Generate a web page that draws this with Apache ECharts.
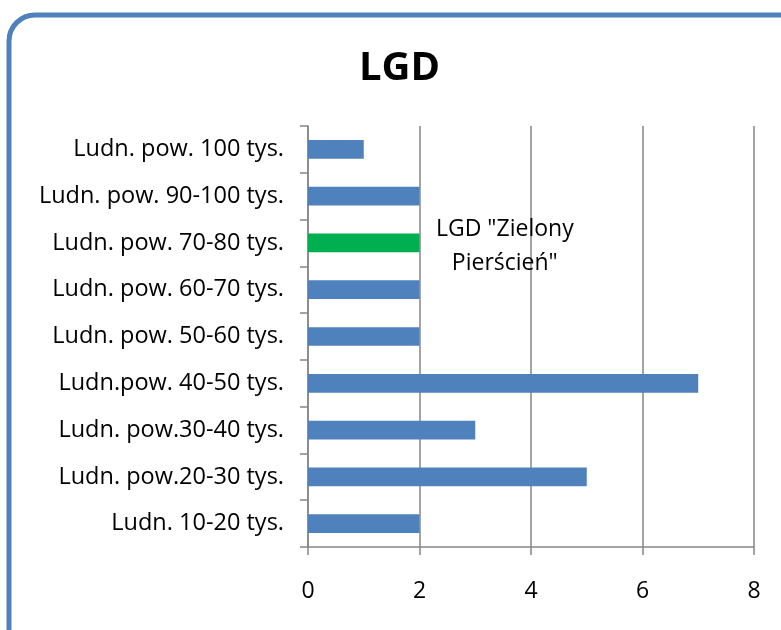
<!DOCTYPE html>
<html>
<head>
<meta charset="utf-8">
<script src="https://cdn.jsdelivr.net/npm/echarts@6/dist/echarts.min.js"></script>
<style>
  html, body { margin: 0; padding: 0; background: #fff; }
  #chart { width: 781px; height: 630px; }
</style>
</head>
<body>
<div id="chart"></div>
<script>
// kategorie od dołu do góry
const categories = [
  'Ludn. 10-20 tys.',
  'Ludn. pow.20-30 tys.',
  'Ludn. pow.30-40 tys.',
  'Ludn.pow. 40-50 tys.',
  'Ludn. pow. 50-60 tys.',
  'Ludn. pow. 60-70 tys.',
  'Ludn. pow. 70-80 tys.',
  'Ludn. pow. 90-100 tys.',
  'Ludn. pow. 100 tys.'
]
const values = [2, 5, 3, 7, 2, 2, 2, 2, 1]
const highlighted = 'Ludn. pow. 70-80 tys.'
const noteText = 'LGD "Zielony\nPierścień"'
const noteX = 3.53

const chart = echarts.init(document.getElementById('chart'))
chart.setOption({
  backgroundColor: '#ffffff',
  textStyle: { fontFamily: 'Open Sans' },
  animation: false,
  graphic: [{
    type: 'rect',
    shape: { x: 9, y: 15, width: 820, height: 660, r: 26 },
    style: { fill: 'none', stroke: '#4f81bd', lineWidth: 5 }
  }],
  title: {
    text: 'LGD',
    left: 354,
    top: 44,
    textStyle: { fontSize: 40, fontWeight: 'bold', color: '#000', fontFamily: 'Open Sans' }
  },
  grid: { left: 308, right: 27, top: 126, bottom: 83 },
  xAxis: {
    type: 'value',
    min: 0,
    max: 8,
    interval: 2,
    axisLine: { show: true, lineStyle: { color: '#868686', width: 1.5 } },
    axisTick: { show: true, length: 8, lineStyle: { color: '#868686', width: 1.5 } },
    splitLine: { show: true, lineStyle: { color: '#868686', width: 1.5 } },
    axisLabel: { color: '#000', fontSize: 23, margin: 33 }
  },
  yAxis: {
    type: 'category',
    data: categories,
    axisLine: { show: true, lineStyle: { color: '#868686', width: 1.5 } },
    axisTick: { show: true, length: 8, lineStyle: { color: '#868686', width: 1.5 } },
    axisLabel: { color: '#000', fontSize: 23.5, margin: 24 }
  },
  series: [{
    type: 'bar',
    barWidth: '40%',
    data: categories.map((c, i) => ({
      value: values[i],
      itemStyle: { color: c === highlighted ? '#00b050' : '#4f81bd' }
    })),
    markPoint: {
      symbol: 'circle',
      symbolSize: 1,
      silent: true,
      itemStyle: { color: 'rgba(0,0,0,0)' },
      data: [{
        coord: [noteX, highlighted],
        label: {
          show: true,
          position: 'inside',
          formatter: noteText,
          color: '#000',
          fontFamily: 'Open Sans',
          fontSize: 23,
          lineHeight: 34,
          align: 'center',
          verticalAlign: 'middle',
          offset: [0, 4]
        }
      }]
    }
  }]
})
</script>
</body>
</html>
